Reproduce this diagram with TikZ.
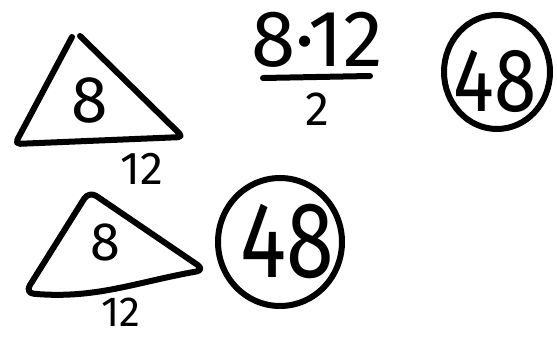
\documentclass[tikz,border=0pt]{standalone}
\usepackage{fontspec}
\setmainfont{Fira Sans}
\usetikzlibrary{shapes.geometric}
\tikzset{
  ink/.style={line width=6pt, line cap=round, line join=round, black},
  digits/.style={inner sep=0pt, font=\fontsize{#1}{#1}\selectfont},
  ring/.style={ink, draw, ellipse, inner sep=0pt}
}
\begin{document}
\begin{tikzpicture}[x=1pt,y=-1pt]
\useasboundingbox (0,0) rectangle (557,337);
% triangle 1 (gap at apex)
\draw[ink, rounded corners=5pt] (80,36) -- (183,137) -- (15,144) -- (72,37);
\node[digits=66] (t1) at (90,100) {8};
\node[digits=46] (b1) at (142,169) {12};
% fraction
\node[digits=80] (num) at (317,40) {8·12};
\coordinate (fl) at (263,78);
\coordinate (fr) at (370,76);
\draw[ink] (fl) -- (fr);
\node[digits=48] (den) at (317,109) {2};
% circled 48 (top)
\node[ring, minimum width=106, minimum height=114] (c1) at (497,72) {};
\node[digits=90, xscale=0.85] (r1) at (495,81) {48};
% triangle 2
\draw[ink, rounded corners=9pt] (89,191) -- (205,270) to[out=190,in=-5] (25,293) -- cycle;
\node[digits=54] (t2) at (105,242) {8};
\node[digits=42] (b2) at (121,312) {12};
% circled 48 (bottom)
\node[ring, minimum width=124, minimum height=128] (c2) at (280,242) {};
\node[digits=108, xscale=0.8] (r2) at (287,241) {48};
\end{tikzpicture}
\end{document}
